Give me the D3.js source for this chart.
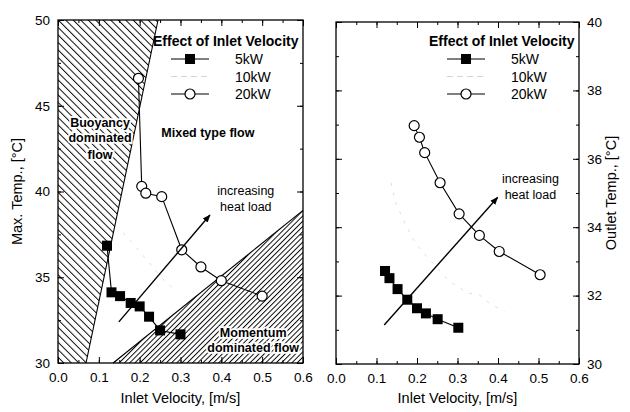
<!DOCTYPE html>
<html><head><meta charset="utf-8">
<script src="https://cdn.jsdelivr.net/npm/d3@7"></script>
<style>body{margin:0;background:#fff}svg{display:block}text{font-family:"Liberation Sans",Arial,sans-serif}</style>
</head><body>
<svg id="c" width="630" height="412"></svg>
<script>
// ---- data ----
const xTickValues = [0.0, 0.1, 0.2, 0.3, 0.4, 0.5, 0.6];
const leftYTickValues = [30, 35, 40, 45, 50];
const rightYTickValues = [30, 32, 34, 36, 38, 40];
const seriesNames = ["5kW", "10kW", "20kW"];

const vel5L = [0.12, 0.131, 0.152, 0.178, 0.2, 0.223, 0.25, 0.3];
const maxT5 = [36.84, 34.12, 33.9, 33.5, 33.3, 32.7, 31.9, 31.67];
const vel10L = [0.16, 0.2, 0.26, 0.29];
const maxT10 = [37.6, 36.5, 34.8, 34.2];
const vel20L = [0.197, 0.205, 0.215, 0.254, 0.303, 0.35, 0.4, 0.5];
const maxT20 = [46.6, 40.3, 39.9, 39.7, 36.6, 35.6, 34.8, 33.9];

const vel5R = [0.121, 0.132, 0.152, 0.176, 0.2, 0.222, 0.251, 0.302];
const outT5 = [32.72, 32.51, 32.19, 31.88, 31.63, 31.48, 31.31, 31.06];
const vel10R = [0.136, 0.146, 0.168, 0.198, 0.28, 0.326, 0.354, 0.38, 0.416];
const outT10 = [35.3, 34.76, 34.17, 33.49, 32.41, 32.07, 32.02, 31.77, 31.53];
const vel20R = [0.193, 0.206, 0.219, 0.257, 0.304, 0.354, 0.403, 0.504];
const outT20 = [36.97, 36.63, 36.18, 35.3, 34.39, 33.76, 33.29, 32.61];

// flow regime boundaries (left chart)
const buoyancyBoundary = [[0.0, 30], [0.0686, 30], [0.245, 50], [0.0, 50]];
const momentumBoundary = [[0.135, 30], [0.6, 38.9], [0.6, 30]];
const arrowL = [[0.149, 32.4], [0.372, 38.63]];
const arrowR = [[0.119, 31.14], [0.399, 34.87]];

const svg = d3.select("#c");
const defs = svg.append("defs");
defs.append("marker").attr("id","ah").attr("viewBox","0 0 10 10").attr("refX",9).attr("refY",5)
  .attr("markerWidth",8).attr("markerHeight",8).attr("markerUnits","userSpaceOnUse").attr("orient","auto")
  .append("path").attr("d","M0,1 L10,5 L0,9 Z").attr("fill","#000");
function hatch(id, angle, s){
  const p = defs.append("pattern").attr("id",id).attr("patternUnits","userSpaceOnUse")
    .attr("width",s).attr("height",s).attr("patternTransform",`rotate(${angle})`);
  p.append("line").attr("x1",0.5).attr("y1",0).attr("x2",0.5).attr("y2",s).attr("stroke","#000").attr("stroke-width",0.95);
}
hatch("hb", -45, 5.3);
hatch("hm", 45, 3.7);

function panel(opt){
  const {x0,x1,y0,y1,yDomain,yTicks,yMinor,xVals,sets,side,title,legendX,legendY,arrow,textPos} = opt;
  const x = d3.scaleLinear().domain([0,0.6]).range([x0,x1]);
  const y = d3.scaleLinear().domain(yDomain).range([y1,y0]);
  const g = svg.append("g");
  const clipId = "clip"+side;
  defs.append("clipPath").attr("id",clipId).append("rect").attr("x",x0).attr("y",y0).attr("width",x1-x0).attr("height",y1-y0);

  if (opt.regions) {
    const line = d3.line().x(d=>x(d[0])).y(d=>y(d[1]));
    opt.regions.forEach(r=>{
      g.append("path").attr("d", line(r.pts)+"Z").attr("fill",`url(#${r.pat})`).attr("stroke","none").attr("clip-path",`url(#${clipId})`);
      g.append("path").attr("d", line(r.edge)).attr("fill","none").attr("stroke","#000").attr("stroke-width",1.1);
    });
  }

  // axes with inward ticks
  const minorX = d3.range(0,0.6001,0.05);
  const axB = d3.axisBottom(x).tickValues(xVals).tickFormat(d3.format(".1f")).tickSizeInner(-6).tickSizeOuter(0).tickPadding(9);
  g.append("g").attr("transform",`translate(0,${y1})`).call(axB);
  const axT = d3.axisTop(x).tickValues(xVals).tickFormat("").tickSizeInner(-6).tickSizeOuter(0);
  g.append("g").attr("transform",`translate(0,${y0})`).call(axT);
  const mB = d3.axisBottom(x).tickValues(minorX).tickFormat("").tickSizeInner(-3).tickSizeOuter(0);
  g.append("g").attr("transform",`translate(0,${y1})`).call(mB);
  const mT = d3.axisTop(x).tickValues(minorX).tickFormat("").tickSizeInner(-3).tickSizeOuter(0);
  g.append("g").attr("transform",`translate(0,${y0})`).call(mT);

  const yL = d3.axisLeft(y).tickValues(yTicks).tickSizeInner(-6).tickSizeOuter(0).tickPadding(side==="L"?8:0);
  const yR = d3.axisRight(y).tickValues(yTicks).tickSizeInner(-6).tickSizeOuter(0).tickPadding(side==="R"?8:0);
  const gl = g.append("g").attr("transform",`translate(${x0},0)`).call(yL);
  const gr = g.append("g").attr("transform",`translate(${x1},0)`).call(yR);
  if (side==="L") gr.selectAll("text").remove(); else gl.selectAll("text").remove();
  g.append("g").attr("transform",`translate(${x0},0)`).call(d3.axisLeft(y).tickValues(yMinor).tickFormat("").tickSizeInner(-3).tickSizeOuter(0));
  g.append("g").attr("transform",`translate(${x1},0)`).call(d3.axisRight(y).tickValues(yMinor).tickFormat("").tickSizeInner(-3).tickSizeOuter(0));
  g.selectAll(".domain").remove();
  g.selectAll(".tick line").attr("stroke","#000").attr("stroke-width",1);
  g.selectAll(".tick text").attr("font-size",13.5).attr("fill","#000");
  g.append("rect").attr("x",x0).attr("y",y0).attr("width",x1-x0).attr("height",y1-y0).attr("fill","none").attr("stroke","#000").attr("stroke-width",1.3);

  // series
  const ln = d3.line().x(d=>x(d[0])).y(d=>y(d[1]));
  sets.forEach((s,i)=>{
    const pts = s.v.map((v,k)=>[v,s.t[k]]);
    if (i===1) {
      g.append("path").attr("d",ln(pts)).attr("fill","none").attr("stroke","#d8d8d8").attr("stroke-width",0.9).attr("stroke-dasharray","3,7");
      return;
    }
    g.append("path").attr("d",ln(pts)).attr("fill","none").attr("stroke","#000").attr("stroke-width",1.1);
    if (i===0) {
      g.selectAll(null).data(pts).enter().append("rect")
        .attr("x",d=>x(d[0])-5).attr("y",d=>y(d[1])-5).attr("width",10).attr("height",10).attr("fill","#000");
    } else {
      g.selectAll(null).data(pts).enter().append("circle")
        .attr("cx",d=>x(d[0])).attr("cy",d=>y(d[1])).attr("r",5).attr("fill","#fff").attr("stroke","#000").attr("stroke-width",1.2);
    }
  });

  // arrow
  g.append("line").attr("x1",x(arrow[0][0])).attr("y1",y(arrow[0][1])).attr("x2",x(arrow[1][0])).attr("y2",y(arrow[1][1]))
    .attr("stroke","#000").attr("stroke-width",1.4).attr("marker-end","url(#ah)");
  const tx = x(textPos[0]), ty = y(textPos[1]);
  g.append("text").attr("x",tx).attr("y",ty).attr("text-anchor","middle").attr("font-size",12.5).text("increasing");
  g.append("text").attr("x",tx).attr("y",ty+16).attr("text-anchor","middle").attr("font-size",12.5).text("heat load");

  // legend
  g.append("text").attr("x",legendX).attr("y",legendY).attr("font-size",14).attr("font-weight","bold").text("Effect of Inlet Velocity");
  seriesNames.forEach((nm,i)=>{
    const ly = legendY+13+i*17.5, lx0 = legendX+18, lx1 = legendX+56, cx=(lx0+lx1)/2;
    if (i===1) {
      g.append("line").attr("x1",lx0).attr("x2",lx1).attr("y1",ly).attr("y2",ly).attr("stroke","#cfcfcf").attr("stroke-width",0.9).attr("stroke-dasharray","6,4");
    } else {
      g.append("line").attr("x1",lx0).attr("x2",lx1).attr("y1",ly).attr("y2",ly).attr("stroke","#000").attr("stroke-width",1.2);
      if (i===0) g.append("rect").attr("x",cx-5).attr("y",ly-5).attr("width",10).attr("height",10).attr("fill","#000");
      else g.append("circle").attr("cx",cx).attr("cy",ly).attr("r",5).attr("fill","#fff").attr("stroke","#000").attr("stroke-width",1.2);
    }
    g.append("text").attr("x",legendX+82).attr("y",ly+5).attr("font-size",14).text(nm);
  });

  // axis titles
  svg.append("text").attr("x",(x0+x1)/2).attr("y",403).attr("text-anchor","middle").attr("font-size",14.5).text("Inlet Velocity, [m/s]");
  const ax = side==="L" ? 18 : 612;
  svg.append("text").attr("transform",`translate(${ax},${(y0+y1)/2}) rotate(-90)`).attr("text-anchor","middle")
    .attr("dominant-baseline","middle").attr("font-size",14.5).text(title);
  return {x,y,g};
}

const L = panel({x0:58,x1:303,y0:20,y1:363,yDomain:[30,50],yTicks:leftYTickValues,yMinor:d3.range(30,50.01,2.5),
  xVals:xTickValues,side:"L",title:"Max. Temp., [°C]",legendX:153,legendY:46,
  sets:[{v:vel5L,t:maxT5},{v:vel10L,t:maxT10},{v:vel20L,t:maxT20}],
  regions:[{pts:buoyancyBoundary,edge:[buoyancyBoundary[1],buoyancyBoundary[2]],pat:"hb"},
           {pts:momentumBoundary,edge:[momentumBoundary[0],momentumBoundary[1]],pat:"hm"}],
  arrow:arrowL,textPos:[0.46,39.8]});

const R = panel({x0:336,x1:579,y0:22,y1:364,yDomain:[30,40],yTicks:rightYTickValues,yMinor:d3.range(30,40.01,1),
  xVals:xTickValues,side:"R",title:"Outlet Temp., [°C]",legendX:429,legendY:46,
  sets:[{v:vel5R,t:outT5},{v:vel10R,t:outT10},{v:vel20R,t:outT20}],
  arrow:arrowR,textPos:[0.48,35.3]});

// region labels (left)
function halo(sel){ return sel.attr("font-weight","bold").attr("font-size",12.5).attr("text-anchor","middle")
  .attr("stroke","#fff").attr("stroke-width",3.5).attr("paint-order","stroke").attr("fill","#000"); }
[["Buoyancy",44.0],["dominated",43.1],["flow",42.1]].forEach(([t,v])=>
  halo(L.g.append("text").attr("x",L.x(0.103)).attr("y",L.y(v)+4).text(t)));
[["Momentum",31.75],["dominated flow",30.85]].forEach(([t,v])=>
  halo(L.g.append("text").attr("x",L.x(0.478)).attr("y",L.y(v)+4).text(t)));
L.g.append("text").attr("x",L.x(0.367)).attr("y",L.y(43.4)+4).attr("text-anchor","middle").attr("font-weight","bold").attr("font-size",12.5).text("Mixed type flow");
</script>
</body></html>
